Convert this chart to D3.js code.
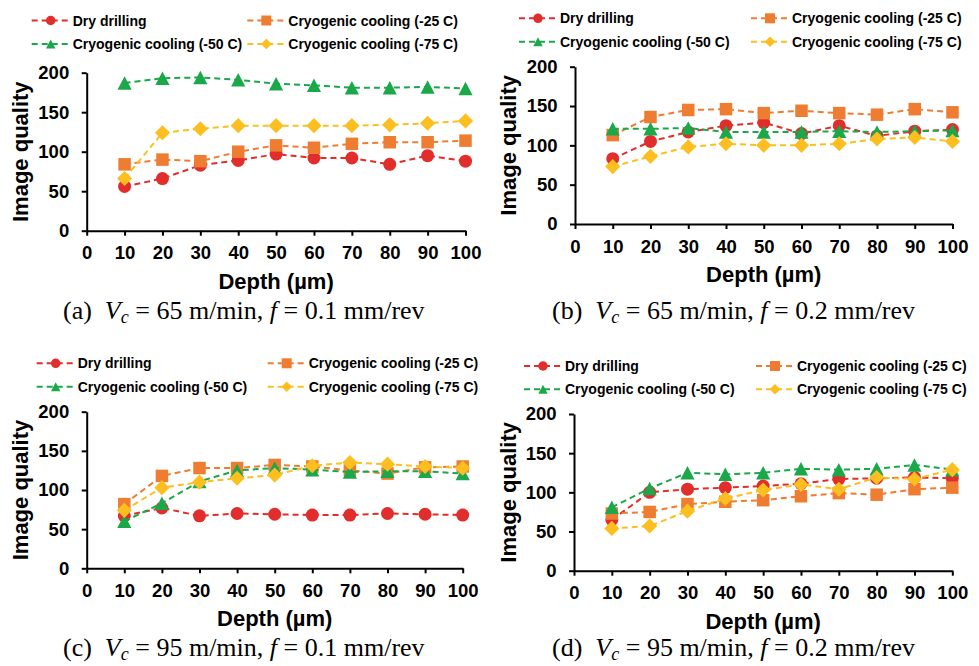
<!DOCTYPE html>
<html>
<head>
<meta charset="utf-8">
<script src="https://cdn.jsdelivr.net/npm/d3@7/dist/d3.min.js"></script>
<style>
  html, body { margin: 0; padding: 0; background: #fff; }
  svg { display: block; }
  text { white-space: pre; }
</style>
</head>
<body>
<svg id="fig" width="979" height="666"></svg>
<script>
// Depth positions (µm) and axis ticks shared by all four panels
const depths = [10, 20, 30, 40, 50, 60, 70, 80, 90, 100];
const xTicks = [0, 10, 20, 30, 40, 50, 60, 70, 80, 90, 100];
const yTicks = [0, 50, 100, 150, 200];

const seriesNames = [
  "Dry drilling",
  "Cryogenic cooling (-25 C)",
  "Cryogenic cooling (-50 C)",
  "Cryogenic cooling (-75 C)"
];

// Panel captions
const panelTags = ["(a)", "(b)", "(c)", "(d)"];
const cuttingSpeeds = [65, 65, 95, 95];   // m/min
const feedRates = ["0.1", "0.2", "0.1", "0.2"]; // mm/rev

// (a) Vc = 65 m/min, f = 0.1 mm/rev
const dryA   = [56, 66, 83, 89, 97, 92, 92, 84, 95, 88];
const cryo25A = [84, 90, 88, 100, 108, 105, 110, 112, 112, 114];
const cryo50A = [187, 193, 194, 191, 186, 184, 181, 181, 182, 180];
const cryo75A = [66, 124, 129, 133, 133, 133, 133, 134, 136, 139];

// (b) Vc = 65 m/min, f = 0.2 mm/rev
const dryB   = [83, 105, 117, 125, 129, 115, 125, 112, 118, 120];
const cryo25B = [113, 136, 145, 146, 141, 144, 141, 139, 146, 142];
const cryo50B = [121, 121, 122, 117, 117, 117, 118, 117, 118, 119];
const cryo75B = [73, 86, 98, 102, 100, 100, 102, 108, 110, 105];

// (c) Vc = 95 m/min, f = 0.1 mm/rev
const dryC   = [67, 77, 67, 70, 69, 68, 68, 70, 69, 68];
const cryo25C = [82, 118, 128, 128, 132, 130, 125, 121, 129, 130];
const cryo50C = [60, 83, 111, 125, 128, 126, 123, 124, 124, 121];
const cryo75C = [74, 103, 110, 115, 119, 131, 135, 133, 130, 128];

// (d) Vc = 95 m/min, f = 0.2 mm/rev
const dryD   = [65, 100, 104, 106, 108, 111, 117, 118, 119, 118];
const cryo25D = [73, 75, 85, 88, 90, 95, 99, 97, 104, 106];
const cryo50D = [81, 105, 125, 123, 125, 130, 129, 130, 135, 129];
const cryo75D = [54, 57, 76, 92, 103, 110, 104, 119, 117, 129];

const panelValues = [
  [dryA, cryo25A, cryo50A, cryo75A],
  [dryB, cryo25B, cryo50B, cryo75B],
  [dryC, cryo25C, cryo50C, cryo75C],
  [dryD, cryo25D, cryo50D, cryo75D]
];

// ---- styling and layout ----
const colors = ["#e12d2b", "#ee7d31", "#1ba84a", "#fcbf1f"];
const markers = ["circle", "square", "triangle", "diamond"];
const SANS = "'Liberation Sans', Arial, sans-serif";
const SERIF = "'Liberation Serif', 'Times New Roman', serif";

const frames = [
  { x0: 86.7, x1: 465.5, yb: 230.7, yt: 72.7, legY: [20.5, 44], legX: [31.7, 247.3], capX: 63,  capY: 319, yTitleX: 28 },
  { x0: 575,  x1: 952.5, yb: 224,   yt: 66.7, legY: [18.3, 41.7], legX: [519, 751], capX: 552, capY: 319, yTitleX: 516 },
  { x0: 86.7, x1: 462.7, yb: 568.3, yt: 411.7, legY: [363.3, 386.7], legX: [36.7, 267.7], capX: 63, capY: 656, yTitleX: 28 },
  { x0: 574,  x1: 952.3, yb: 570.7, yt: 414, legY: [366, 389.3], legX: [524, 756], capX: 552, capY: 656, yTitleX: 516 }
];

// Marker outlines centred on (0,0); s is the nominal size in px
function markerPath(kind, s) {
  const h = s / 2;
  switch (kind) {
    case "circle": {
      const p = d3.path(); p.arc(0, 0, h, 0, 2 * Math.PI); p.closePath(); return p.toString();
    }
    case "square":
      return `M${-h},${-h}H${h}V${h}H${-h}Z`;
    case "triangle":
      return `M0,${-h}L${h * 1.05},${h}L${-h * 1.05},${h}Z`;
    case "diamond": {
      const d = h * 1.12;
      return `M0,${-d}L${d},0L0,${d}L${-d},0Z`;
    }
  }
}
const plotSize = [13, 12.5, 13.5, 13.5];
const legendSize = [9.5, 10, 9, 9.5];

const svg = d3.select("#fig");

frames.forEach((f, pi) => {
  const g = svg.append("g");
  const x = d3.scaleLinear().domain([0, 100]).range([f.x0, f.x1]);
  const y = d3.scaleLinear().domain([0, 200]).range([f.yb, f.yt]);

  // Axes
  const xAxis = d3.axisBottom(x).tickValues(xTicks).tickSizeInner(5).tickSizeOuter(0).tickPadding(10.5);
  const yAxis = d3.axisLeft(y).tickValues(yTicks).tickSizeInner(5).tickSizeOuter(0).tickPadding(12.5);

  const gx = g.append("g").attr("transform", `translate(0,${f.yb})`).call(xAxis);
  const gy = g.append("g").attr("transform", `translate(${f.x0},0)`).call(yAxis);
  [gx, gy].forEach(a => {
    a.selectAll("path, line").attr("stroke", "#000").attr("stroke-width", 2);
    a.selectAll("text")
      .attr("fill", "#000")
      .style("font-family", SANS)
      .style("font-weight", "bold")
      .style("font-size", "18.5px");
  });

  // Axis titles
  g.append("text")
    .attr("x", (f.x0 + f.x1) / 2)
    .attr("y", f.yb + 58)
    .attr("text-anchor", "middle")
    .style("font-family", SANS).style("font-weight", "bold").style("font-size", "22px")
    .text("Depth (µm)");
  g.append("text")
    .attr("transform", `translate(${f.yTitleX},${(f.yb + f.yt) / 2}) rotate(-90)`)
    .attr("text-anchor", "middle")
    .style("font-family", SANS).style("font-weight", "bold").style("font-size", "22px")
    .text("Image quality");

  // Series: dashed line then markers, in legend order
  const line = d3.line().x(d => x(d[0])).y(d => y(d[1]));
  panelValues[pi].forEach((vals, si) => {
    const pts = depths.map((dv, i) => [dv, vals[i]]);
    g.append("path")
      .attr("d", line(pts))
      .attr("fill", "none")
      .attr("stroke", colors[si])
      .attr("stroke-width", 2)
      .attr("stroke-dasharray", "6,4");
    g.selectAll(null).data(pts).enter().append("path")
      .attr("transform", d => `translate(${x(d[0])},${y(d[1])})`)
      .attr("d", markerPath(markers[si], plotSize[si]))
      .attr("fill", colors[si]);
  });

  // Legend: two rows, two columns
  seriesNames.forEach((name, si) => {
    const lx = f.legX[si % 2];
    const ly = f.legY[Math.floor(si / 2)];
    const lg = g.append("g");
    lg.append("line")
      .attr("x1", lx).attr("x2", lx + 38)
      .attr("y1", ly).attr("y2", ly)
      .attr("stroke", colors[si]).attr("stroke-width", 2).attr("stroke-dasharray", "6,4");
    lg.append("path")
      .attr("transform", `translate(${lx + 19},${ly})`)
      .attr("d", markerPath(markers[si], legendSize[si]))
      .attr("fill", colors[si]);
    lg.append("text")
      .attr("x", lx + 41).attr("y", ly).attr("dy", "0.36em")
      .style("font-family", SANS).style("font-weight", "bold").style("font-size", "14px")
      .text(name);
  });

  // Caption: (x)  Vc = .. m/min, f = .. mm/rev
  const cap = g.append("text")
    .attr("x", f.capX).attr("y", f.capY)
    .style("font-family", SERIF).style("font-size", "26px");
  cap.append("tspan").text(panelTags[pi] + "  ");
  cap.append("tspan").style("font-style", "italic").text("V");
  cap.append("tspan").style("font-style", "italic").style("font-size", "18px").attr("dy", 4).text("c");
  cap.append("tspan").attr("dy", -4).text(` = ${cuttingSpeeds[pi]} m/min, `);
  cap.append("tspan").style("font-style", "italic").text("f");
  cap.append("tspan").text(` = ${feedRates[pi]} mm/rev`);
});
</script>
</body>
</html>
